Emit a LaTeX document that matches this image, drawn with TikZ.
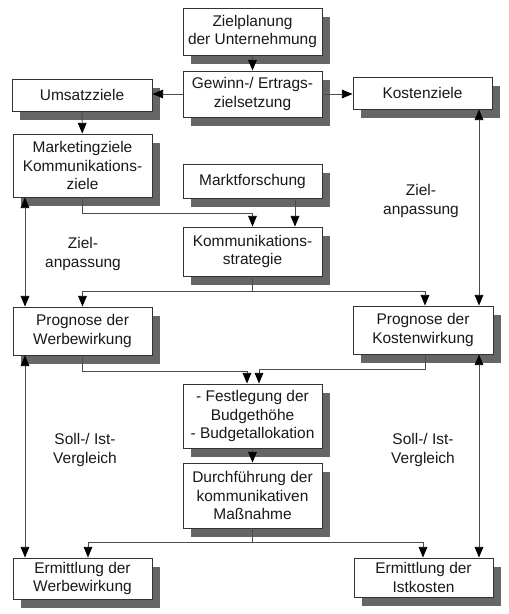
\documentclass[tikz,border=0pt]{standalone}
\usepackage{fontspec}
\setmainfont{Liberation Sans}
\usetikzlibrary{arrows.meta,shadows}
\begin{document}
\begin{tikzpicture}[x=0.75pt,y=-0.75pt,
  box/.style={draw=black!80, line width=0.7pt, fill=white, align=center, inner sep=0pt,
    minimum width=104.25pt, text=black!90, font=\fontsize{11.6}{14}\selectfont,
    drop shadow={shadow xshift=6pt, shadow yshift=-6.5pt, fill=black!60, opacity=1}},
  lab/.style={align=center, text=black!90, font=\fontsize{11.6}{14}\selectfont},
  conn/.style={draw=black!70, line width=0.65pt},
  tip/.style={Triangle[length=8pt,width=6.5pt,color=black]},
  arr/.style={conn, -{Triangle[length=8pt,width=6.5pt,color=black]}},
  darr/.style={conn, {Triangle[length=8pt,width=6.5pt,color=black]}-{Triangle[length=8pt,width=6.5pt,color=black]}}
]
\path[use as bounding box] (0,0) rectangle (508,614);

% boxes
\node[box, minimum height=35.25pt] (ziel) at (252.5,31.5) {Zielplanung\\der Unternehmung};
\node[box, minimum height=34.5pt] (gew) at (252.5,94) {Gewinn-/ Ertrags-\\zielsetzung};
\node[box, minimum height=24pt, minimum width=105pt] (ums) at (82,95) {Umsatzziele};
\node[box, minimum height=24pt] (kost) at (422.5,93) {Kostenziele};
\node[box, minimum height=47.25pt] (mark) at (82.5,165.5) {Marketingziele\\Kommunikations-\\ziele};
\node[box, minimum height=25.5pt] (markt) at (252.5,181) {Marktforschung};
\node[box, minimum height=36.75pt] (komm) at (252.5,251.5) {Kommunikations-\\strategie};
\node[box, minimum height=36pt] (progw) at (82.5,331) {Prognose der\\Werbewirkung};
\node[box, minimum height=36pt, minimum width=105pt] (progk) at (423,330) {Prognose der\\Kostenwirkung};
\node[box, minimum height=48pt] (fest) at (252.5,416) {- Festlegung der\\Budgethöhe\\- Budgetallokation};
\node[box, minimum height=48.75pt] (durch) at (252.5,495.5) {Durchführung der\\kommunikativen\\Maßnahme};
\node[box, minimum height=30.75pt] (ermw) at (82.5,578.5) {Ermittlung der\\Werbewirkung};
\node[box, minimum height=29.25pt] (ermk) at (423.5,577.5) {Ermittlung der\\Istkosten};

% labels
\node[lab] (za1) at (83,254) {Ziel-\\anpassung};
\node[lab] (za2) at (421,201) {Ziel-\\anpassung};
\node[lab] (sv1) at (85,450) {Soll-/ Ist-\\Vergleich};
\node[lab] (sv2) at (423,450) {Soll-/ Ist-\\Vergleich};

% helper coordinates
\coordinate (xL) at (25,0);
\coordinate (xR) at (479,0);
\coordinate (xMf) at (295,0);
\coordinate (xFa) at (247,0);
\coordinate (xFb) at (259,0);
\coordinate (xKr) at (425,0);
\coordinate (xEl) at (88,0);
\coordinate (xEr) at (423,0);
\coordinate (h1) at (0,213);
\coordinate (h2) at (0,291);
\coordinate (h3) at (0,371);
\coordinate (h4) at (0,369);
\coordinate (h5) at (0,542);

% connectors
\draw[arr] (ziel) -- (gew);
\draw[arr] (gew.west) -- (gew.west -| ums.east);
\draw[arr] (gew.east) -- (gew.east -| kost.west);
\draw[arr] (ums) -- (mark);
\draw[arr] (mark.south) -- (mark.south |- h1) -| (komm.north);
\draw[arr] (markt.south -| xMf) -- (komm.north -| xMf);
\draw[darr] (mark.south -| xL) -- (progw.north -| xL);
\draw[darr] (kost.south -| xR) -- (progk.north -| xR);
\draw[arr] (komm.south) -- (komm.south |- h2) -| (progw.north);
\draw[arr] (komm.south |- h2) -| (progk.north -| xKr);
\draw[arr] (progw.south) -- (progw.south |- h3) -| (fest.north -| xFa);
\draw[arr] (progk.south -| xKr) -- (h4 -| xKr) -| (fest.north -| xFb);
\draw[arr] (fest) -- (durch);
\draw[arr] (durch.south) -- (durch.south |- h5) -| (ermw.north -| xEl);
\draw[arr] (durch.south |- h5) -| (ermk.north -| xEr);
\draw[darr] (progw.south -| xL) -- (ermw.north -| xL);
\draw[darr] (progk.south -| xR) -- (ermk.north -| xR);
\end{tikzpicture}
\end{document}
